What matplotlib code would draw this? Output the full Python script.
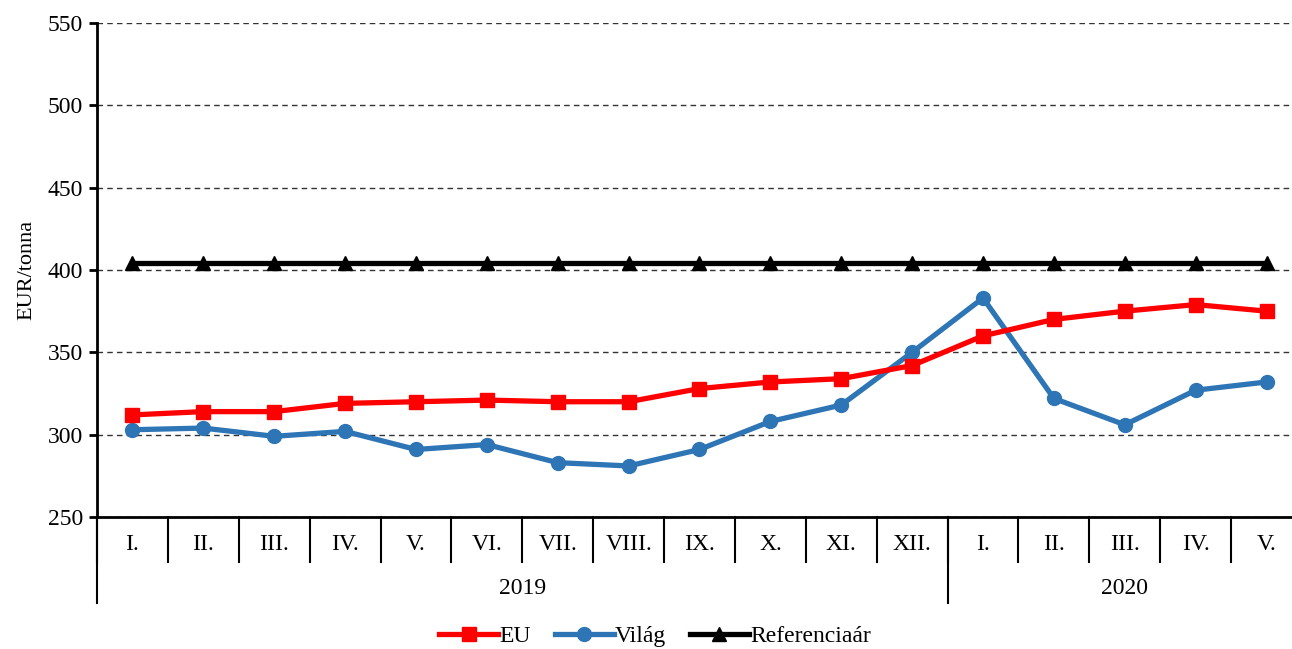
import matplotlib
matplotlib.use("Agg")
import matplotlib.pyplot as plt
import matplotlib.transforms as mtransforms

months = ["I.", "II.", "III.", "IV.", "V.", "VI.", "VII.", "VIII.", "IX.", "X.", "XI.", "XII.",
          "I.", "II.", "III.", "IV.", "V."]
years = ["2019", "2020"]
year_counts = [12, 5]
eu = [312, 314, 314, 319, 320, 321, 320, 320, 328, 332, 334, 342, 360, 370, 375, 379, 375]
vilag = [303, 304, 299, 302, 291, 294, 283, 281, 291, 308, 318, 350, 383, 322, 306, 327, 332]
referencia = [404] * 17

plt.rcParams['font.family'] = ['Liberation Serif', 'DejaVu Serif']

fig = plt.figure(figsize=(12.92, 6.49), dpi=100)
ax = fig.add_axes([97/1292, (649-517)/649, (1292-97)/1292, (517-23)/649])

x = list(range(len(months)))
ax.plot(x, eu, color='#FF0000', lw=3.8, marker='s', ms=10, label='EU', zorder=4)
ax.plot(x, vilag, color='#2E75B6', lw=3.8, marker='o', ms=10, label='Világ', zorder=3)
ax.plot(x, referencia, color='black', lw=3.8, marker='^', ms=10, label='Referenciaár', zorder=5)

ax.set_ylim(250, 550)
ax.set_yticks(range(250, 551, 50))
ax.set_xlim(-0.5, 16.5 - 10/71)
ax.yaxis.grid(True, linestyle=(0, (4, 3)), color='#333333', lw=1)
ax.set_axisbelow(True)
for s in ['top', 'right']:
    ax.spines[s].set_visible(False)
ax.spines['left'].set_linewidth(2)
ax.spines['bottom'].set_linewidth(2)
ax.tick_params(axis='y', labelsize=17, length=6, width=2, direction='out', pad=4)
ax.set_xticks([])
ax.set_ylabel('EUR/tonna', fontsize=16, labelpad=8)

# month labels and separators
trans = mtransforms.blended_transform_factory(ax.transData, fig.transFigure)
y_month = (649-545)/649
y_year = (649-588)/649
y_sep_m = (649-562)/649
y_sep_y = (649-603)/649
y_axis = (649-517)/649
for i, m in enumerate(months):
    ax.text(i, y_month, m, transform=trans, ha='center', va='center', fontsize=17)
for i in range(len(months)):
    ax.plot([i-0.5, i-0.5], [y_axis, y_sep_m], transform=trans, color='black', lw=1.5, clip_on=False)
start = 0
bounds = [0]
for y, c in zip(years, year_counts):
    ax.text(start + c/2 - 0.5, y_year, y, transform=trans, ha='center', va='center', fontsize=17)
    start += c
    bounds.append(start)
for b in bounds[:-1]:
    ax.plot([b-0.5, b-0.5], [y_axis, y_sep_y], transform=trans, color='black', lw=1.5, clip_on=False)

fig.legend(loc='lower center', bbox_to_anchor=(0.507, -0.03), ncol=3, frameon=False,
           fontsize=17, handlelength=2.5, handletextpad=0.05, columnspacing=1.0)

fig.savefig('out.png', dpi=100)
